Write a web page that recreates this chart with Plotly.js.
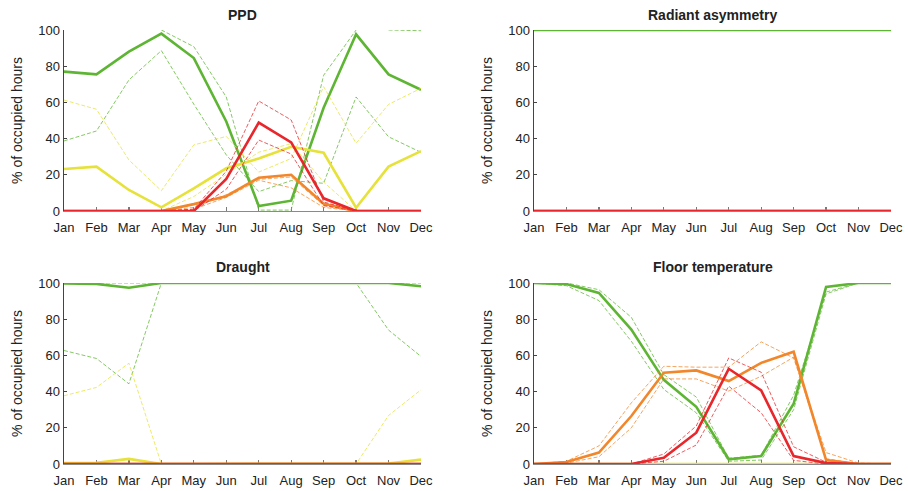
<!DOCTYPE html>
<html>
<head>
<meta charset="utf-8">
<script src="https://cdn.plot.ly/plotly-3.0.1.min.js"></script>
<style>html,body{margin:0;padding:0;background:#fff;}#chart{width:908px;height:491px;}</style>
</head>
<body>
<div id="chart"></div>
<script>
// ---- data ----
const months = ["Jan","Feb","Mar","Apr","May","Jun","Jul","Aug","Sep","Oct","Nov","Dec"];
const panelTitles = ["PPD","Radiant asymmetry","Draught","Floor temperature"];
const yTitle = "% of occupied hours";
const yTicks = [0,20,40,60,80,100];

// PPD
const ppdGreen   = [77,75.5,88,98,84.5,49.5,2.8,5.7,57,97.6,75.5,67];
const ppdGreenA  = [38.7,44.2,72.4,88.6,59,31,10.7,16.8,15.3,63,41,32.4];
const ppdGreenB  = [null,null,null,100,90.8,63,0.5,0.5,75,100,null,null];
const ppdGreenC  = [null,null,null,null,null,null,null,null,null,null,100,99.6];
const ppdYellow  = [23.2,24.5,11.6,2,12.5,23.6,29,35.5,32.2,1.8,24.5,33.1];
const ppdYellowA = [61.3,56.2,28.2,11.2,36.5,41.2,21.5,29,68.7,37.4,58.9,67.8];
const ppdYellowB = [0,0,0,0,8,20,32.5,37.2,16,0,0,0];
const ppdOrange  = [0,0,0,0,3.8,8.2,18.4,20,4,0,0,0];
const ppdOrangeA = [0,0,0,0,2,9,17.5,18.8,3,0,0,0];
const ppdOrangeB = [0,0,0,0,1,7.5,17,12.8,2,0,0,0];
const ppdRed     = [0,0,0,0,0,17.7,48.8,37.9,7,0,0,0];
const ppdRedA    = [0,0,0,0,1,22,60.8,50.3,5,0,0,0];
const ppdRedB    = [0,0,0,0,0,12,39.2,31.5,3,0,0,0];

// Radiant asymmetry
const radGreen  = [100,100,100,100,100,100,100,100,100,100,100,100];
const radGreenA = [100,100,100,100,100,100,100,100,100,100,100,100];
const radGreenB = [100,100,100,100,100,100,100,100,100,100,100,100];
const radYellow = [0,0,0,0,0,0,0,0,0,0,0,0];
const radOrange = [0,0,0,0,0,0,0,0,0,0,0,0];
const radRed    = [0,0,0,0,0,0,0,0,0,0,0,0];

// Draught
const drGreen   = [99.7,99.5,97.4,100,100,100,100,100,100,100,100,98.2];
const drGreenA  = [62.7,58.3,44.3,100,100,100,100,100,100,100,74,59.4];
const drGreenB  = [100,100,100,100,100,100,100,100,100,100,100,100];
const drYellow  = [0.5,0.7,2.8,0,0,0,0,0,0,0,0.3,2.4];
const drYellowA = [37.7,42.3,55.7,0,0,0,0,0,0,0,26.8,41];
const drYellowB = [0,0,0,0,0,0,0,0,0,0,0,0];
const drOrange  = [0,0,0,0,0,0,0,0,0,0,0,0];
const drRed     = [0,0,0,0,0,0,0,0,0,0,0,0];

// Floor temperature
const flGreen   = [100,99.4,94.5,74.3,46.5,31.6,2.6,4.4,33.3,97.8,100,100];
const flGreenA  = [100,100,96.3,81,49.4,37,3.2,4.8,38,95,100,100];
const flGreenB  = [100,98.5,90.3,67.8,41.2,28.3,1.5,2.2,30,94,100,100];
const flYellow  = [0,0,0,0,0,0,0,0,0,0,0,0];
const flOrange  = [0,1.1,6.3,26.5,50.4,51.7,45.8,55.9,62,2.2,0,0];
const flOrangeA = [0,1.5,10,33.8,54,53.5,53.5,67.5,58.6,6.3,0.5,0];
const flOrangeB = [0,0.5,4,20,47,47,40.3,48.5,59,3,0,0];
const flRed     = [0,0,0,0,3.5,17.3,52.6,40.6,4.4,0.5,0,0];
const flRedA    = [0,0,0,0,5.5,21,58.6,50.7,9.5,1,0,0];
const flRedB    = [0,0,0,0,1.5,10.5,43,28.3,2,0,0,0];

// ---- style ----
const C = {green:"#5db533", yellow:"#e6e23a", orange:"#f2862a", red:"#e8262b"};

function solid(y, col, ax){
  return {x: months, y: y, xaxis: "x"+ax, yaxis: "y"+ax, type: "scatter", mode: "lines",
          line: {color: col, width: 2.6}, hoverinfo: "skip", showlegend: false};
}
function dashed(y, col, ax){
  return {x: months, y: y, xaxis: "x"+ax, yaxis: "y"+ax, type: "scatter", mode: "lines",
          line: {color: col, width: 1, dash: "4px,2px"}, opacity: 0.75, connectgaps: false,
          hoverinfo: "skip", showlegend: false};
}

const traces = [
  // PPD
  dashed(ppdGreenA, C.green, ""), dashed(ppdGreenB, C.green, ""), dashed(ppdGreenC, C.green, ""), solid(ppdGreen, C.green, ""),
  dashed(ppdYellowA, C.yellow, ""), dashed(ppdYellowB, C.yellow, ""), solid(ppdYellow, C.yellow, ""),
  dashed(ppdOrangeA, C.orange, ""), dashed(ppdOrangeB, C.orange, ""), solid(ppdOrange, C.orange, ""),
  dashed(ppdRedA, C.red, ""), dashed(ppdRedB, C.red, ""), solid(ppdRed, C.red, ""),
  // Radiant
  dashed(radGreenA, C.green, "2"), dashed(radGreenB, C.green, "2"), solid(radGreen, C.green, "2"),
  solid(radYellow, C.yellow, "2"), solid(radOrange, C.orange, "2"), solid(radRed, C.red, "2"),
  // Draught
  dashed(drGreenA, C.green, "3"), dashed(drGreenB, C.green, "3"), solid(drGreen, C.green, "3"),
  dashed(drYellowA, C.yellow, "3"), dashed(drYellowB, C.yellow, "3"), solid(drYellow, C.yellow, "3"),
  solid(drOrange, C.orange, "3"), solid(drRed, C.red, "3"),
  // Floor
  dashed(flGreenA, C.green, "4"), dashed(flGreenB, C.green, "4"), solid(flGreen, C.green, "4"),
  solid(flYellow, C.yellow, "4"),
  dashed(flOrangeA, C.orange, "4"), dashed(flOrangeB, C.orange, "4"), solid(flOrange, C.orange, "4"),
  dashed(flRedA, C.red, "4"), dashed(flRedB, C.red, "4"), solid(flRed, C.red, "4")
];

const W = 908, H = 491;
const colX = [[64, 421], [534, 891]];
const rowY = [[30, 211], [283, 464]];
function dx(c){ return [colX[c][0]/W, colX[c][1]/W]; }
function dy(r){ return [1 - rowY[r][1]/H, 1 - rowY[r][0]/H]; }

const font = {family: "Liberation Sans, Arial, sans-serif", color: "#222"};

function xax(c, anchor){
  return {domain: dx(c), anchor: anchor, type: "category", range: [0, 11],
          showgrid: false, zeroline: false, showline: true, linecolor: "#8a8a8a", linewidth: 1,
          ticks: "inside", ticklen: 4, tickcolor: "#7a7a7a", tickwidth: 1.2,
          ticklabelstandoff: 4, layer: "below traces",
          tickfont: {family: font.family, size: 13, color: "#222"}, fixedrange: true};
}
function yax(r, c, anchor){
  return {domain: dy(r), anchor: anchor, range: [0, 100], tickvals: yTicks,
          showgrid: false, zeroline: false, showline: true, linecolor: "#444", linewidth: 1.5,
          ticks: "inside", ticklen: 3, tickcolor: "#444", layer: "below traces",
          tickfont: {family: font.family, size: 13, color: "#222"},
          title: {text: yTitle, font: {family: font.family, size: 14, color: "#222"}, standoff: 12},
          fixedrange: true};
}

const annotations = panelTitles.map((t, i) => {
  const c = i % 2, r = Math.floor(i / 2);
  const cx = (colX[c][0] + colX[c][1]) / 2 / W;
  const cy = 1 - (r === 0 ? 15 : 267) / H;
  return {text: "<b>" + t + "</b>", x: cx, y: cy, xref: "paper", yref: "paper",
          xanchor: "center", yanchor: "middle", showarrow: false,
          font: {family: font.family, size: 14, color: "#222"}};
});

const layout = {
  width: W, height: H, margin: {l: 0, r: 0, t: 0, b: 0},
  paper_bgcolor: "#fff", plot_bgcolor: "#fff", font: font, showlegend: false,
  xaxis: xax(0, "y"), yaxis: yax(0, 0, "x"),
  xaxis2: xax(1, "y2"), yaxis2: yax(0, 1, "x2"),
  xaxis3: xax(0, "y3"), yaxis3: yax(1, 0, "x3"),
  xaxis4: xax(1, "y4"), yaxis4: yax(1, 1, "x4"),
  annotations: annotations
};

Plotly.newPlot("chart", traces, layout, {staticPlot: true, displayModeBar: false});
</script>
</body>
</html>
